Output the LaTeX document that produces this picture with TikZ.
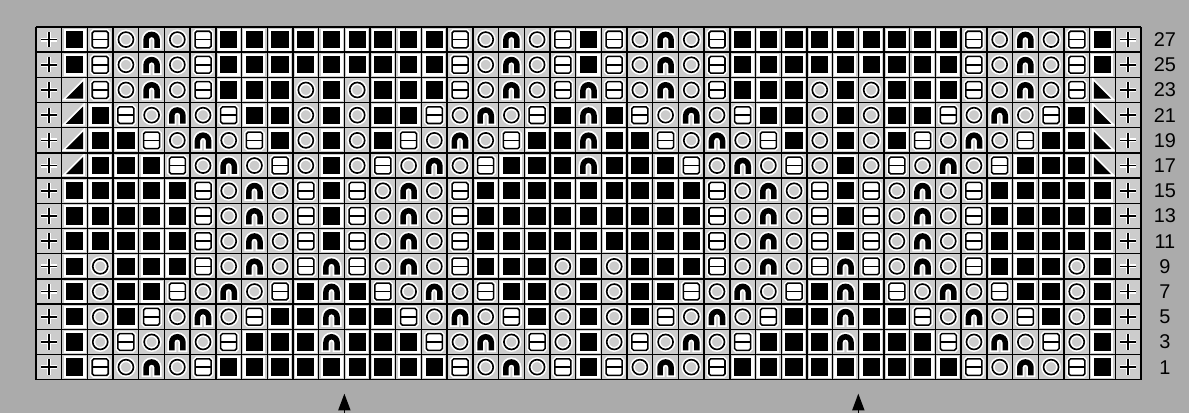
\documentclass[tikz,border=0pt]{standalone}
\usepackage{fontspec}
\newfontfamily\rowfont{Liberation Sans}
\usetikzlibrary{arrows.meta}

\colorlet{paper}{black!33}
\colorlet{cellbg}{black!20}

\begin{document}
\begin{tikzpicture}[x=0.771cm, y=0.756cm,
    cell/.style={minimum width=0.771cm, minimum height=0.756cm, inner sep=0pt, outer sep=0pt, fill=cellbg},
    sym/.style={cell, path picture={\begin{scope}[shift={(path picture bounding box.center)}]#1\end{scope}}},
    halo/.style={preaction={draw=white, line width=#1}}, halo/.default=3.6pt,
    s-e/.style={sym={\draw[black, line width=1.4pt, halo=3.4pt] (-0.23cm,0) -- (0.23cm,0) (0,-0.23cm) -- (0,0.23cm);}},
    s-k/.style={sym={\fill[black, halo=4pt] (-0.26cm,-0.26cm) rectangle (0.26cm,0.26cm);}},
    s-h/.style={sym={\draw[black, fill=white, line width=1.3pt, rounded corners=1.5pt, halo=4pt] (-0.24cm,-0.25cm) rectangle (0.24cm,0.25cm);
        \draw[black, line width=1.3pt] (-0.24cm,0) -- (0.24cm,0);}},
    s-o/.style={sym={\draw[black, line width=1.4pt, halo=4.2pt] (0,0) circle (0.225cm);}},
    s-a/.style={sym={\fill[black, halo=3pt] (-0.25cm,-0.25cm) -- (-0.25cm,-0.01cm) arc[start angle=180, end angle=0, radius=0.25cm]
        -- (0.25cm,-0.25cm) -- (0.085cm,-0.25cm) -- (0.085cm,-0.01cm) arc[start angle=0, end angle=180, radius=0.085cm]
        -- (-0.085cm,-0.25cm) -- cycle;}},
    s-l/.style={sym={\fill[black, halo=3pt] (-0.26cm,-0.26cm) -- (0.26cm,-0.26cm) -- (0.26cm,0.26cm) -- cycle;}},
    s-r/.style={sym={\fill[black, halo=3pt] (-0.26cm,-0.26cm) -- (0.26cm,-0.26cm) -- (-0.26cm,0.26cm) -- cycle;}},
    rule/.style={black, line width=1.2pt},
    rowlab/.style={font=\rowfont\fontsize{17}{19}\selectfont, inner sep=0pt},
    reparrow/.style={black, line width=1.3pt, -{Triangle[length=0.5cm, width=0.36cm]}}
]
\fill[paper] (-1.401,-1.310) rectangle (44.868,15.071);
\useasboundingbox (-1.401,-1.310) rectangle (44.868,15.071);

% chart rows, top to bottom
\foreach \n/\pat [count=\ri] in {
  27/{e,k,h,o,a,o,h,k,k,k,k,k,k,k,k,k,h,o,a,o,h,k,h,o,a,o,h,k,k,k,k,k,k,k,k,k,h,o,a,o,h,k,e},
  25/{e,k,h,o,a,o,h,k,k,k,k,k,k,k,k,k,h,o,a,o,h,k,h,o,a,o,h,k,k,k,k,k,k,k,k,k,h,o,a,o,h,k,e},
  23/{e,l,h,o,a,o,h,k,k,k,o,k,o,k,k,k,h,o,a,o,h,a,h,o,a,o,h,k,k,k,o,k,o,k,k,k,h,o,a,o,h,r,e},
  21/{e,l,k,h,o,a,o,h,k,k,o,k,o,k,k,h,o,a,o,h,k,a,k,h,o,a,o,h,k,k,o,k,o,k,k,h,o,a,o,h,k,r,e},
  19/{e,l,k,k,h,o,a,o,h,k,o,k,o,k,h,o,a,o,h,k,k,a,k,k,h,o,a,o,h,k,o,k,o,k,h,o,a,o,h,k,k,r,e},
  17/{e,l,k,k,k,h,o,a,o,h,o,k,o,h,o,a,o,h,k,k,k,a,k,k,k,h,o,a,o,h,o,k,o,h,o,a,o,h,k,k,k,r,e},
  15/{e,k,k,k,k,k,h,o,a,o,h,k,h,o,a,o,h,k,k,k,k,k,k,k,k,k,h,o,a,o,h,k,h,o,a,o,h,k,k,k,k,k,e},
  13/{e,k,k,k,k,k,h,o,a,o,h,k,h,o,a,o,h,k,k,k,k,k,k,k,k,k,h,o,a,o,h,k,h,o,a,o,h,k,k,k,k,k,e},
  11/{e,k,k,k,k,k,h,o,a,o,h,k,h,o,a,o,h,k,k,k,k,k,k,k,k,k,h,o,a,o,h,k,h,o,a,o,h,k,k,k,k,k,e},
  9/{e,k,o,k,k,k,h,o,a,o,h,a,h,o,a,o,h,k,k,k,o,k,o,k,k,k,h,o,a,o,h,a,h,o,a,o,h,k,k,k,o,k,e},
  7/{e,k,o,k,k,h,o,a,o,h,k,a,k,h,o,a,o,h,k,k,o,k,o,k,k,h,o,a,o,h,k,a,k,h,o,a,o,h,k,k,o,k,e},
  5/{e,k,o,k,h,o,a,o,h,k,k,a,k,k,h,o,a,o,h,k,o,k,o,k,h,o,a,o,h,k,k,a,k,k,h,o,a,o,h,k,o,k,e},
  3/{e,k,o,h,o,a,o,h,k,k,k,a,k,k,k,h,o,a,o,h,o,k,o,h,o,a,o,h,k,k,k,a,k,k,k,h,o,a,o,h,o,k,e},
  1/{e,k,h,o,a,o,h,k,k,k,k,k,k,k,k,k,h,o,a,o,h,k,h,o,a,o,h,k,k,k,k,k,k,k,k,k,h,o,a,o,h,k,e}}{
  \foreach \s [count=\ci] in \pat {
    \node[s-\s] (c-\n-\ci) at (\ci-0.5, 14.5-\ri) {};
  }
  \node[rowlab] (lab-\n) at (43.93, 14.5-\ri) {\n};
}

% grid
\foreach \gx in {0,...,43} \draw[rule] (\gx,0) -- (\gx,14);
\foreach \gy in {0,...,14} \draw[rule] (0,\gy) -- (43,\gy);

% repeat marks
\coordinate (rep-l-foot) at (12,-1.31);
\coordinate (rep-l-tip) at (12,-0.55);
\coordinate (rep-r-foot) at (32,-1.31);
\coordinate (rep-r-tip) at (32,-0.55);
\draw[reparrow] (rep-l-foot) -- (rep-l-tip);
\draw[reparrow] (rep-r-foot) -- (rep-r-tip);
\end{tikzpicture}
\end{document}
